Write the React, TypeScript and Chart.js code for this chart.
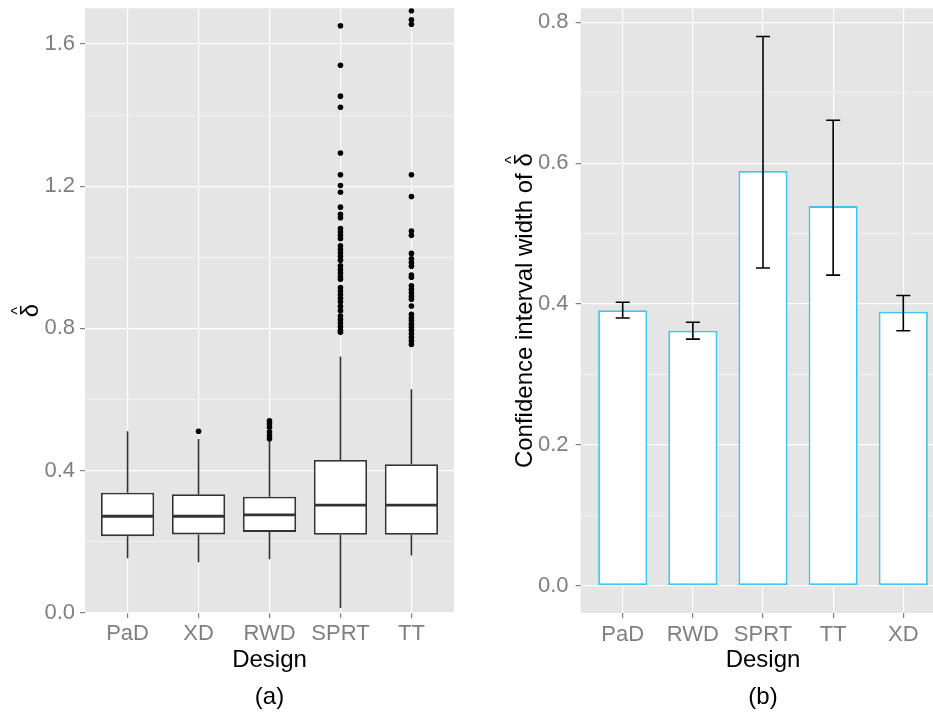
import React, { useEffect, useRef } from 'react';
import { Chart, registerables } from 'chart.js';

Chart.register(...registerables);

const FONT = '"Liberation Sans", Arial, sans-serif';
const PANEL_BG = '#E5E5E5';
const MAJOR_GRID = '#FFFFFF';
const MINOR_GRID = '#F2F2F2';
const TICK_GREY = '#7F7F7F';
const BOX_LINE = '#333333';
const BAR_BORDER = '#3DC6F4';

// ---------- Panel (a): boxplots of delta-hat ----------
const designsA = ['PaD', 'XD', 'RWD', 'SPRT', 'TT'];
const whiskerLow = [0.154, 0.143, 0.151, 0.014, 0.162];
const quart1 = [0.216, 0.221, 0.228, 0.220, 0.220];
const medians = [0.272, 0.272, 0.276, 0.303, 0.303];
const quart3 = [0.338, 0.334, 0.327, 0.430, 0.418];
const whiskerHigh = [0.511, 0.489, 0.484, 0.721, 0.629];

const outliersPaD: number[] = [];
const outliersXD = [0.511];
const outliersRWD = [0.540, 0.531, 0.522, 0.509, 0.498, 0.490];
const outliersSPRT = [
  1.651, 1.540, 1.453, 1.422, 1.293, 1.232, 1.202, 1.183, 1.141, 1.121, 1.111,
  1.081, 1.072, 1.062, 1.052, 1.032, 1.022, 1.012, 1.002, 0.992, 0.976, 0.966,
  0.956, 0.946, 0.938, 0.915, 0.905, 0.895, 0.885, 0.875, 0.862, 0.850, 0.835,
  0.825, 0.815, 0.805, 0.795, 0.789,
];
const outliersTT = [
  1.693, 1.668, 1.655, 1.232, 1.171, 1.074, 1.062, 1.011, 0.996, 0.985, 0.975,
  0.950, 0.944, 0.920, 0.910, 0.900, 0.890, 0.882, 0.863, 0.840, 0.830, 0.822,
  0.812, 0.803, 0.795, 0.785, 0.775, 0.765, 0.755,
];
const outliersA = [outliersPaD, outliersXD, outliersRWD, outliersSPRT, outliersTT];

const yMajorA = [0, 0.4, 0.8, 1.2, 1.6];
const yMinorA = [0.2, 0.6, 1.0, 1.4];
const yTitleA = '';

// ---------- Panel (b): CI width bars ----------
const designsB = ['PaD', 'RWD', 'SPRT', 'TT', 'XD'];
const ciWidth = [0.391, 0.362, 0.589, 0.539, 0.389];
const ciLow = [0.380, 0.350, 0.451, 0.441, 0.362];
const ciHigh = [0.4025, 0.374, 0.780, 0.661, 0.412];

const yMajorB = [0, 0.2, 0.4, 0.6, 0.8];
const yMinorB = [0.1, 0.3, 0.5, 0.7];
const yTitleB = 'Confidence interval width of ';

const isIn = (arr: number[], v: number) => arr.some((a) => Math.abs(a - v) < 1e-6);

const panelBg = {
  id: 'panelBg',
  beforeDraw(chart: any) {
    const { ctx, chartArea: a } = chart;
    ctx.save();
    ctx.fillStyle = PANEL_BG;
    ctx.fillRect(a.left, a.top, a.right - a.left, a.bottom - a.top);
    ctx.restore();
  },
};

// y-axis title "<text> delta-hat", rotated; hat drawn as a caret above delta
function yTitlePlugin(text: string, baselineX: number) {
  return {
    id: 'yTitleHat',
    afterDraw(chart: any) {
      const { ctx, chartArea: a } = chart;
      const cy = (a.top + a.bottom) / 2;
      ctx.save();
      ctx.translate(baselineX, cy);
      ctx.rotate(-Math.PI / 2);
      ctx.fillStyle = '#000';
      ctx.textBaseline = 'alphabetic';
      ctx.textAlign = 'left';
      ctx.font = `24px ${FONT}`;
      const full = text + '\u03B4';
      const w = ctx.measureText(full).width;
      const dw = ctx.measureText('\u03B4').width;
      ctx.fillText(full, -w / 2, 0);
      ctx.font = `16px ${FONT}`;
      ctx.textAlign = 'center';
      ctx.fillText('^', w / 2 - dw / 2, -15);
      ctx.restore();
    },
  };
}

function xScale(labels: string[], title: string[], padding: number) {
  return {
    type: 'linear',
    offset: false,
    min: 0.4,
    max: 5.6,
    afterBuildTicks: (s: any) => {
      s.ticks = labels.map((_, i) => ({ value: i + 1 }));
    },
    afterFit: (s: any) => {
      s.height = 100;
      s.paddingLeft = 0;
      s.paddingRight = 0;
    },
    ticks: {
      callback: (v: number) => labels[Math.round(v) - 1],
      font: { size: 22, family: FONT },
      color: TICK_GREY,
      padding,
      autoSkip: false,
      maxRotation: 0,
    },
    grid: {
      offset: false,
      color: MAJOR_GRID,
      lineWidth: 1.2,
      tickLength: 5,
      tickColor: TICK_GREY,
      tickWidth: 1.2,
    },
    border: { display: false },
    title: {
      display: true,
      text: title,
      color: '#000',
      font: { size: 24, family: FONT, lineHeight: 37 / 24 },
      padding: { top: 0, bottom: -2.5 },
    },
  };
}

function yScale(min: number, max: number, majors: number[], minors: number[], width: number, labelPad: number) {
  const all = [...majors, ...minors].sort((a, b) => a - b);
  return {
    type: 'linear',
    min,
    max,
    afterBuildTicks: (s: any) => {
      s.ticks = all.map((v) => ({ value: v }));
    },
    afterFit: (s: any) => {
      s.width = width;
      s.paddingTop = 0;
      s.paddingBottom = 0;
    },
    ticks: {
      callback: (v: number) => (isIn(majors, v) ? v.toFixed(1) : ''),
      font: { size: 22, family: FONT },
      color: TICK_GREY,
      padding: labelPad,
      autoSkip: false,
    },
    grid: {
      color: (c: any) => (c.tick && isIn(majors, c.tick.value) ? MAJOR_GRID : MINOR_GRID),
      lineWidth: (c: any) => (c.tick && isIn(majors, c.tick.value) ? 1.2 : 1),
      tickLength: 5,
      tickColor: (c: any) => (c.tick && isIn(majors, c.tick.value) ? TICK_GREY : 'rgba(0,0,0,0)'),
      tickWidth: 1.2,
    },
    border: { display: false },
    title: { display: false },
  };
}

const boxParts = {
  id: 'boxParts',
  beforeDatasetsDraw(chart: any) {
    const { ctx, scales } = chart;
    const x = scales.x;
    const y = scales.y;
    ctx.save();
    ctx.strokeStyle = BOX_LINE;
    ctx.lineWidth = 1.6;
    designsA.forEach((_, i) => {
      const px = x.getPixelForValue(i + 1);
      ctx.beginPath();
      ctx.moveTo(px, y.getPixelForValue(whiskerLow[i]));
      ctx.lineTo(px, y.getPixelForValue(quart1[i]));
      ctx.moveTo(px, y.getPixelForValue(quart3[i]));
      ctx.lineTo(px, y.getPixelForValue(whiskerHigh[i]));
      ctx.stroke();
    });
    ctx.restore();
  },
  afterDatasetsDraw(chart: any) {
    const { ctx, scales } = chart;
    const y = scales.y;
    const meta = chart.getDatasetMeta(0);
    ctx.save();
    ctx.strokeStyle = BOX_LINE;
    ctx.lineWidth = 2.8;
    meta.data.forEach((bar: any, i: number) => {
      const { x: cx, width } = bar.getProps(['x', 'width'], true);
      const py = y.getPixelForValue(medians[i]);
      ctx.beginPath();
      ctx.moveTo(cx - width / 2 + 0.8, py);
      ctx.lineTo(cx + width / 2 - 0.8, py);
      ctx.stroke();
    });
    ctx.restore();
  },
};

const errorBars = {
  id: 'errorBars',
  afterDatasetsDraw(chart: any) {
    const { ctx, scales } = chart;
    const x = scales.x;
    const y = scales.y;
    const half = x.getPixelForValue(1.1) - x.getPixelForValue(1);
    ctx.save();
    ctx.strokeStyle = '#000';
    ctx.lineWidth = 1.6;
    designsB.forEach((_, i) => {
      const px = x.getPixelForValue(i + 1);
      const lo = y.getPixelForValue(ciLow[i]);
      const hi = y.getPixelForValue(ciHigh[i]);
      ctx.beginPath();
      ctx.moveTo(px, lo);
      ctx.lineTo(px, hi);
      ctx.moveTo(px - half, lo);
      ctx.lineTo(px + half, lo);
      ctx.moveTo(px - half, hi);
      ctx.lineTo(px + half, hi);
      ctx.stroke();
    });
    ctx.restore();
  },
};

function BoxChart() {
  const ref = useRef<HTMLCanvasElement>(null);
  useEffect(() => {
    const outlierPoints: { x: number; y: number }[] = [];
    outliersA.forEach((arr, i) => arr.forEach((v) => outlierPoints.push({ x: i + 1, y: v })));
    const chart = new Chart(ref.current as HTMLCanvasElement, {
      type: 'bar',
      data: {
        datasets: [
          {
            type: 'bar',
            data: designsA.map((_, i) => ({ x: i + 1, y: [quart1[i], quart3[i]] })) as any,
            backgroundColor: '#FFFFFF',
            borderColor: BOX_LINE,
            borderWidth: 1.8,
            borderSkipped: false,
            barPercentage: 0.75,
            categoryPercentage: 1,
          },
          {
            type: 'scatter',
            data: outlierPoints,
            pointRadius: 2.8,
            pointBackgroundColor: '#000',
            pointBorderWidth: 0,
            pointBorderColor: '#000',
          } as any,
        ],
      },
      options: {
        responsive: false,
        animation: false,
        events: [],
        layout: { padding: { left: 0, right: 16, top: 8.3, bottom: 0 } },
        plugins: { legend: { display: false }, tooltip: { enabled: false } },
        scales: {
          x: xScale(designsA, ['Design', '(a)'], 3) as any,
          y: yScale(0, 1.7, yMajorA, yMinorA, 85, 5) as any,
        },
      },
      plugins: [panelBg, boxParts, yTitlePlugin(yTitleA, 38)],
    });
    return () => chart.destroy();
  }, []);
  return <canvas ref={ref} width={470} height={713} style={{ position: 'absolute', left: 0, top: 0, width: 470, height: 713 }} />;
}

function CiChart() {
  const ref = useRef<HTMLCanvasElement>(null);
  useEffect(() => {
    const chart = new Chart(ref.current as HTMLCanvasElement, {
      type: 'bar',
      data: {
        datasets: [
          {
            data: designsB.map((_, i) => ({ x: i + 1, y: ciWidth[i] })) as any,
            backgroundColor: '#FFFFFF',
            borderColor: BAR_BORDER,
            borderWidth: 1.8,
            borderSkipped: false,
            barPercentage: 0.7,
            categoryPercentage: 1,
          },
        ],
      },
      options: {
        responsive: false,
        animation: false,
        events: [],
        layout: { padding: { left: 0, right: 4.6, top: 8.3, bottom: 0 } },
        plugins: { legend: { display: false }, tooltip: { enabled: false } },
        scales: {
          x: xScale(designsB, ['Design', '(b)'], 4) as any,
          y: yScale(-0.039, 0.82, yMajorB, yMinorB, 110.6, 7) as any,
        },
      },
      plugins: [panelBg, errorBars, yTitlePlugin(yTitleB, 62)],
    });
    return () => chart.destroy();
  }, []);
  return <canvas ref={ref} width={480} height={713} style={{ position: 'absolute', left: 470, top: 0, width: 480, height: 713 }} />;
}

export default function App() {
  return (
    <div style={{ position: 'absolute', left: 0, top: 0, width: 933, height: 713, overflow: 'hidden', background: '#FFFFFF' }}>
      <BoxChart />
      <CiChart />
    </div>
  );
}
